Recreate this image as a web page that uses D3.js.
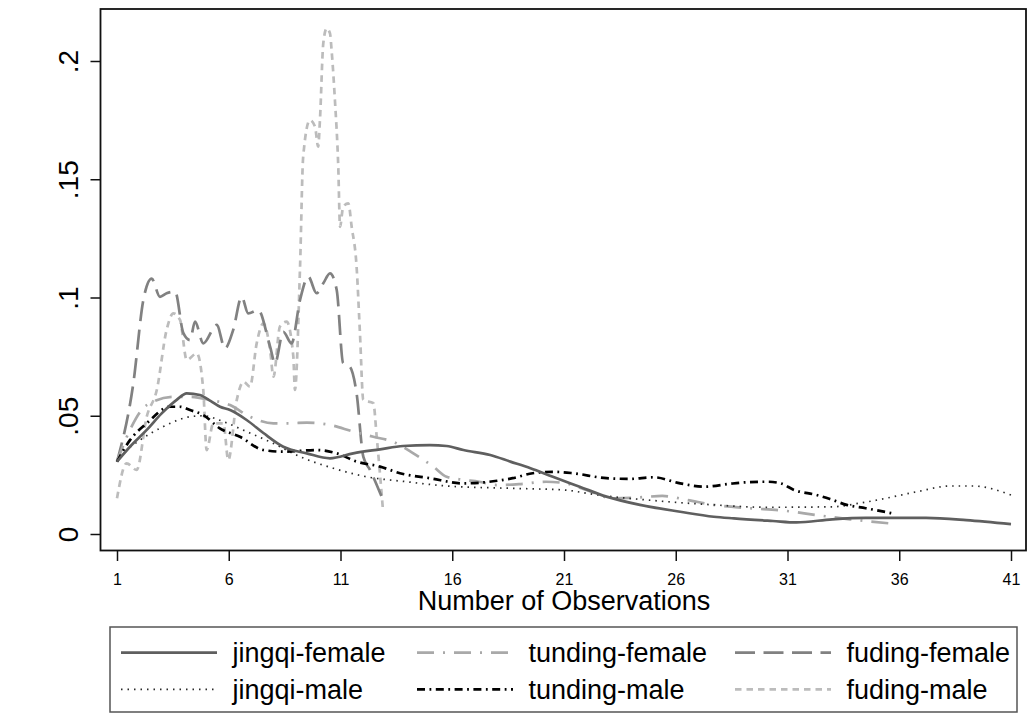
<!DOCTYPE html>
<html>
<head>
<meta charset="utf-8">
<script src="https://cdn.jsdelivr.net/npm/d3@7/dist/d3.min.js"></script>
<style>
  html, body { margin: 0; padding: 0; background: #fff; }
  svg { display: block; }
  text { font-family: "Liberation Sans", Arial, Helvetica, sans-serif; fill: #000; }
</style>
</head>
<body>
<svg id="chart" width="1028" height="713"></svg>
<script>
// Kernel density of number of observations, by site and sex: [x, density]
const jingqiFemale = [
  [1, 0.0306], [1.58, 0.0369], [2.33, 0.044], [3, 0.051], [3.67, 0.0567], [4.12, 0.0595],
  [4.71, 0.0588], [5.2, 0.0562], [5.61, 0.0538], [6.06, 0.0524], [6.8, 0.0482], [7.55, 0.0427],
  [8.44, 0.0369], [9.49, 0.0341], [10.53, 0.032], [11.57, 0.0341], [12.77, 0.0358], [13.8, 0.0372],
  [15, 0.0376], [15.75, 0.0372], [16.5, 0.0355], [17.7, 0.0334], [18.6, 0.0306], [19.5, 0.0278],
  [20.5, 0.0242], [21.7, 0.02], [22.9, 0.0158], [24.4, 0.0123], [26.2, 0.0094], [27.7, 0.0073],
  [28.6, 0.0066], [30.35, 0.0055], [31.4, 0.0049], [33, 0.0062], [34.5, 0.0068], [37.2, 0.0068],
  [39, 0.0059], [41, 0.0042]
];
const jingqiMale = [
  [1, 0.0306], [1.5, 0.036], [2.03, 0.0397], [3.07, 0.0454], [4.27, 0.0496], [4.86, 0.05],
  [5.76, 0.0475], [6.8, 0.0433], [8, 0.0383], [9.19, 0.0327], [10.68, 0.0278], [12.17, 0.0242],
  [13.96, 0.0221], [15.75, 0.0203], [18.7, 0.0193], [21, 0.0186], [22.5, 0.0165], [24.7, 0.0144],
  [27.4, 0.0125], [30.1, 0.0113], [33, 0.0115], [34.2, 0.013], [35.4, 0.0151], [36.8, 0.0179],
  [38.3, 0.0203], [39.3, 0.0203], [41, 0.0165]
];
const tundingFemale = [
  [1, 0.0306], [1.58, 0.044], [2.33, 0.0545], [3.52, 0.058], [4.27, 0.058], [5.16, 0.0567],
  [6.06, 0.0545], [6.95, 0.0496], [8, 0.0468], [8.74, 0.0468], [9.49, 0.0471], [10.53, 0.0461],
  [11.57, 0.0433], [12.47, 0.0411], [13.35, 0.039], [14.26, 0.0341], [15.15, 0.0285], [15.75, 0.0242],
  [16.35, 0.0231], [17.2, 0.0221], [18, 0.0207], [19, 0.0211], [20.2, 0.0221], [21.1, 0.0214],
  [22, 0.0186], [23.2, 0.0151], [24.4, 0.0155], [25.4, 0.0161], [26.5, 0.0144], [27.7, 0.0123],
  [29.3, 0.0109], [30.8, 0.0099], [32.3, 0.008], [33.8, 0.0062], [35.9, 0.0042]
];
const tundingMale = [
  [1, 0.0306], [1.58, 0.0397], [2.33, 0.0468], [3.37, 0.0538], [3.8, 0.0538], [4.27, 0.0524],
  [4.86, 0.0503], [5.6, 0.0447], [6.5, 0.0411], [7.55, 0.0355], [8.44, 0.0348], [9.93, 0.0355],
  [10.83, 0.0341], [11.72, 0.0306], [12.77, 0.0285], [13.66, 0.0257], [15, 0.0236], [16.5, 0.0214],
  [18, 0.0225], [18.7, 0.0236], [19.6, 0.0257], [20.5, 0.0263], [21.4, 0.0257], [22.9, 0.0236],
  [23.95, 0.0233], [25, 0.024], [26.2, 0.0214], [27.3, 0.02], [28.4, 0.0212], [28.9, 0.0217],
  [30.1, 0.0221], [30.7, 0.0214], [31.3, 0.0186], [32.3, 0.0165], [32.9, 0.0148], [33.65, 0.0123],
  [34.5, 0.0109], [35.7, 0.0087]
];
const fudingFemale = [
  [1, 0.0306], [1.73, 0.0637], [2.18, 0.099], [2.55, 0.108], [2.92, 0.1003], [3.22, 0.1018],
  [3.6, 0.1025], [3.97, 0.0849], [4.27, 0.082], [4.49, 0.0898], [4.86, 0.0806], [5.46, 0.0884],
  [5.83, 0.0785], [6.2, 0.0863], [6.58, 0.1003], [6.87, 0.0933], [7.32, 0.0947], [7.85, 0.0792],
  [8.07, 0.0722], [8.44, 0.0855], [8.81, 0.0806], [9.19, 0.099], [9.56, 0.1088], [9.93, 0.1018],
  [10.23, 0.106], [10.53, 0.1102], [10.83, 0.1032], [11.12, 0.0722], [11.42, 0.0707], [11.72, 0.0595],
  [12.02, 0.0327], [12.32, 0.0271], [12.9, 0.0144]
];
const fudingMale = [
  [1, 0.0151], [1.43, 0.0299], [1.88, 0.0271], [2.33, 0.0496], [2.78, 0.0609], [3.22, 0.0863],
  [3.52, 0.0933], [3.82, 0.0905], [4.12, 0.0736], [4.57, 0.0764], [4.86, 0.0609], [5.01, 0.0355],
  [5.31, 0.0468], [5.76, 0.0468], [5.98, 0.0313], [6.36, 0.0567], [6.66, 0.0644], [6.95, 0.0623],
  [7.25, 0.0806], [7.55, 0.0891], [7.85, 0.0778], [8, 0.0665], [8.29, 0.0877], [8.59, 0.0898],
  [8.89, 0.075], [8.96, 0.0609], [9.19, 0.113], [9.33, 0.1595], [9.63, 0.175], [9.86, 0.1722],
  [10.0, 0.1638], [10.08, 0.175], [10.23, 0.2075], [10.38, 0.2138], [10.53, 0.2117], [10.6, 0.2047],
  [10.75, 0.1835], [10.9, 0.1553], [10.98, 0.1299], [11.12, 0.1384], [11.35, 0.1398], [11.5, 0.1299],
  [11.72, 0.113], [11.87, 0.085], [12.02, 0.0567], [12.47, 0.0553], [12.62, 0.0411], [12.9, 0.0101]
];

const xTicks = [1, 6, 11, 16, 21, 26, 31, 36, 41];
const yTicks = [0, 0.05, 0.1, 0.15, 0.2];
const yTickLabels = ["0", ".05", ".1", ".15", ".2"];
const seriesNames = ["jingqi-female", "tunding-female", "fuding-female",
                     "jingqi-male", "tunding-male", "fuding-male"];
const xTitle = "Number of Observations";

// Line styles for each series, in legend order
const styles = {
  "jingqi-female":  { data: jingqiFemale,  color: "#5f5f5f", width: 2.7, dash: null },
  "tunding-female": { data: tundingFemale, color: "#a9a9a9", width: 2.7, dash: "17,9,2,9" },
  "fuding-female":  { data: fudingFemale,  color: "#818181", width: 2.7, dash: "20,8.5" },
  "jingqi-male":    { data: jingqiMale,    color: "#2a2a2a", width: 1.7, dash: "1.5,5" },
  "tunding-male":   { data: tundingMale,   color: "#000000", width: 2.7, dash: "8,4.5,1.8,4.5" },
  "fuding-male":    { data: fudingMale,    color: "#bcbcbc", width: 2.7, dash: "6.5,5" }
};
// Draw order (back to front)
const drawOrder = ["fuding-male", "fuding-female", "tunding-female", "jingqi-male", "tunding-male", "jingqi-female"];

const svg = d3.select("#chart");
const frame = { left: 100.5, right: 1026, top: 9, bottom: 550.5 };

const x = d3.scaleLinear().domain([1, 41]).range([117, 1011]);
const y = d3.scaleLinear().domain([0, 0.2]).range([534, 61]);

const line = d3.line()
  .x(d => x(d[0]))
  .y(d => y(d[1]))
  .curve(d3.curveMonotoneX);

// Series
const plot = svg.append("g");
drawOrder.forEach(name => {
  const s = styles[name];
  plot.append("path")
    .datum(s.data)
    .attr("d", line)
    .attr("fill", "none")
    .attr("stroke", s.color)
    .attr("stroke-width", s.width)
    .attr("stroke-linejoin", "round")
    .attr("stroke-dasharray", s.dash);
});

// Plot frame
svg.append("rect")
  .attr("x", frame.left).attr("y", frame.top)
  .attr("width", frame.right - frame.left).attr("height", frame.bottom - frame.top)
  .attr("fill", "none").attr("stroke", "#111").attr("stroke-width", 1.8);

// Y axis
const yAxis = svg.append("g")
  .attr("transform", `translate(${frame.left},0)`)
  .call(d3.axisLeft(y).tickValues(yTicks).tickSize(10).tickSizeOuter(0)
    .tickFormat((d, i) => yTickLabels[i]));
yAxis.select(".domain").remove();
yAxis.selectAll(".tick line").attr("stroke", "#111").attr("stroke-width", 1.5);
yAxis.selectAll(".tick text")
  .attr("transform", "rotate(-90)")
  .attr("x", 0).attr("y", -23).attr("dy", 0)
  .attr("text-anchor", "middle")
  .style("font-size", "28px")
  .style("font-family", "'Liberation Sans', Arial, sans-serif")
  .attr("fill", "#000");

// X axis
const xAxis = svg.append("g")
  .attr("transform", `translate(0,${frame.bottom})`)
  .call(d3.axisBottom(x).tickValues(xTicks).tickSize(10.5).tickSizeOuter(0));
xAxis.select(".domain").remove();
xAxis.selectAll(".tick line").attr("stroke", "#111").attr("stroke-width", 1.5);
xAxis.selectAll(".tick text")
  .attr("y", 34.5).attr("dy", 0)
  .style("font-size", "16px")
  .style("font-family", "'Liberation Sans', Arial, sans-serif")
  .attr("fill", "#000");

svg.append("text")
  .attr("x", x(21)).attr("y", 610)
  .attr("text-anchor", "middle")
  .style("font-size", "27px")
  .text(xTitle);

// Legend
const legend = svg.append("g");
legend.append("rect")
  .attr("x", 110).attr("y", 627)
  .attr("width", 907).attr("height", 85)
  .attr("fill", "#fff").attr("stroke", "#555").attr("stroke-width", 1.5);

const colX = [121, 417, 735];
const rowY = [652.7, 689.3];
seriesNames.forEach((name, i) => {
  const s = styles[name];
  const cx = colX[i % 3], cy = rowY[Math.floor(i / 3)];
  legend.append("line")
    .attr("x1", cx).attr("x2", cx + 96)
    .attr("y1", cy).attr("y2", cy)
    .attr("stroke", s.color)
    .attr("stroke-width", s.width)
    .attr("stroke-dasharray", s.dash);
  legend.append("text")
    .attr("x", cx + 111.5).attr("y", cy + 9.2)
    .style("font-size", "27px")
    .text(name);
});
</script>
</body>
</html>
